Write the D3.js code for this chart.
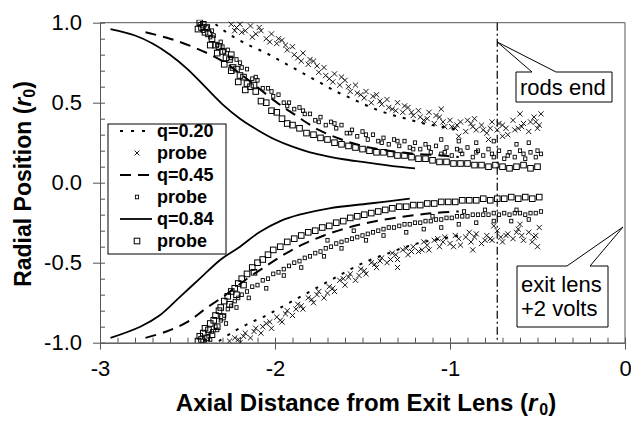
<!DOCTYPE html>
<html>
<head>
<meta charset="utf-8">
<script src="https://cdn.jsdelivr.net/npm/d3@7/dist/d3.min.js"></script>
<style>
  body { margin: 0; background: #fff; }
  svg { display: block; }
  text { font-family: Arial, "Liberation Sans", Helvetica, sans-serif; fill: #000; }
</style>
</head>
<body>
<svg id="chart" width="631" height="428"></svg>
<script>
// ---- axis ticks ----
const xTickValues = [-3, -2, -1, 0];
const yTickValues = [1.0, 0.5, 0.0, -0.5, -1.0];
const rodsEndX = -0.73;

// ---- simulated trajectories (upper / lower envelopes) ----
const sim020Upper = [[-2.34,0.99],[-2.25,0.92],[-2.15,0.86],[-2.05,0.81],[-1.95,0.75],[-1.85,0.69],[-1.75,0.63],[-1.65,0.57],[-1.55,0.52],[-1.45,0.47],[-1.35,0.43],[-1.25,0.40],[-1.15,0.37],[-1.05,0.35],[-0.95,0.33]];
const sim020Lower = [[-2.32,-0.99],[-2.25,-0.94],[-2.15,-0.88],[-2.05,-0.83],[-1.95,-0.77],[-1.85,-0.71],[-1.75,-0.65],[-1.65,-0.59],[-1.55,-0.53],[-1.45,-0.48],[-1.35,-0.44],[-1.25,-0.40],[-1.15,-0.37],[-1.05,-0.35],[-0.95,-0.33]];
const sim045Upper = [[-2.74,0.94],[-2.60,0.90],[-2.45,0.84],[-2.30,0.76],[-2.15,0.64],[-2.00,0.51],[-1.88,0.42],[-1.75,0.33],[-1.62,0.27],[-1.50,0.23],[-1.35,0.20],[-1.20,0.18],[-1.05,0.17],[-0.95,0.16]];
const sim045Lower = [[-2.74,-0.97],[-2.62,-0.93],[-2.50,-0.87],[-2.40,-0.79],[-2.28,-0.70],[-2.16,-0.60],[-2.05,-0.52],[-1.95,-0.45],[-1.85,-0.39],[-1.72,-0.33],[-1.58,-0.28],[-1.42,-0.24],[-1.25,-0.21],[-1.10,-0.19],[-0.95,-0.18]];
const sim084Upper = [[-2.94,0.96],[-2.80,0.92],[-2.70,0.87],[-2.60,0.80],[-2.50,0.71],[-2.40,0.60],[-2.30,0.49],[-2.20,0.40],[-2.10,0.33],[-2.00,0.27],[-1.90,0.225],[-1.80,0.19],[-1.70,0.165],[-1.60,0.145],[-1.50,0.13],[-1.40,0.115],[-1.30,0.10],[-1.20,0.09]];
const sim084Lower = [[-2.94,-0.97],[-2.77,-0.90],[-2.66,-0.83],[-2.54,-0.71],[-2.43,-0.60],[-2.31,-0.48],[-2.20,-0.40],[-2.09,-0.31],[-1.97,-0.24],[-1.86,-0.20],[-1.69,-0.16],[-1.46,-0.13],[-1.23,-0.10]];

// ---- probe measurements ----
const probe020Upper = [[-2.25,0.99],[-2.22,0.97],[-2.20,0.99],[-2.17,0.95],[-2.14,0.98],[-2.11,0.93],[-2.08,0.95],[-2.05,0.90],[-2.02,0.93],[-1.99,0.87],[-1.96,0.89],[-1.93,0.83],[-1.90,0.85],[-1.87,0.78],[-1.84,0.81],[-1.81,0.74],[-1.78,0.76],[-1.75,0.69],[-1.72,0.72],[-1.69,0.65],[-1.66,0.68],[-1.63,0.61],[-1.60,0.64],[-1.57,0.57],[-1.54,0.61],[-1.51,0.55],[-1.48,0.57],[-1.45,0.50],[-1.42,0.55],[-1.39,0.49],[-1.36,0.52],[-1.33,0.46],[-1.30,0.50],[-1.27,0.44],[-1.24,0.47],[-1.21,0.42],[-1.18,0.45],[-1.15,0.39],[-1.12,0.44],[-1.09,0.37],[-1.06,0.41],[-1.03,0.35],[-1.00,0.39],[-0.97,0.34],[-0.94,0.38],[-0.91,0.32],[-0.88,0.37],[-0.85,0.33],[-0.82,0.36],[-0.79,0.31],[-0.76,0.38],[-0.73,0.33],[-0.70,0.36],[-0.67,0.30],[-0.64,0.39],[-0.61,0.34],[-0.58,0.37],[-0.55,0.32],[-0.52,0.41],[-0.49,0.36],[-0.48,0.43],
  [-2.19,0.94],[-2.09,0.97],[-1.98,0.90],[-1.89,0.80],[-1.80,0.77],[-1.71,0.67],[-1.62,0.66],[-1.53,0.56],[-1.44,0.54],[-1.35,0.47],[-1.26,0.48],[-1.17,0.41],[-1.08,0.42],[-0.99,0.35],[-0.90,0.39],[-0.81,0.33],[-0.72,0.37],[-0.63,0.33],[-0.54,0.38],[-0.50,0.34],[-1.05,0.46],[-0.95,0.29],[-0.78,0.27],[-0.60,0.43],[-0.86,0.40],[-0.70,0.29],
  [-2.23,0.95],[-2.13,0.91],[-2.03,0.88],[-1.94,0.86],[-1.85,0.76],[-1.76,0.73],[-1.67,0.63],[-1.58,0.60],[-1.49,0.53],[-1.40,0.51],[-1.31,0.45],[-1.22,0.44],[-1.13,0.40],[-1.04,0.38],[-0.96,0.36],[-0.87,0.35],[-0.77,0.34],[-0.68,0.34],[-0.59,0.35],[-0.51,0.38]];
const probe020Lower = [[-2.26,-0.99],[-2.23,-0.97],[-2.20,-1.00],[-2.17,-0.94],[-2.14,-0.97],[-2.11,-0.91],[-2.08,-0.94],[-2.05,-0.88],[-2.02,-0.91],[-1.99,-0.84],[-1.96,-0.87],[-1.93,-0.80],[-1.90,-0.83],[-1.87,-0.76],[-1.84,-0.79],[-1.81,-0.72],[-1.78,-0.75],[-1.75,-0.68],[-1.72,-0.72],[-1.69,-0.65],[-1.66,-0.68],[-1.63,-0.61],[-1.60,-0.64],[-1.57,-0.57],[-1.54,-0.61],[-1.51,-0.54],[-1.48,-0.57],[-1.45,-0.50],[-1.42,-0.53],[-1.39,-0.47],[-1.36,-0.50],[-1.33,-0.44],[-1.30,-0.48],[-1.27,-0.42],[-1.24,-0.45],[-1.21,-0.40],[-1.18,-0.43],[-1.15,-0.37],[-1.12,-0.42],[-1.09,-0.36],[-1.06,-0.40],[-1.03,-0.34],[-1.00,-0.38],[-0.97,-0.33],[-0.94,-0.39],[-0.91,-0.34],[-0.88,-0.37],[-0.85,-0.32],[-0.82,-0.38],[-0.79,-0.33],[-0.76,-0.36],[-0.73,-0.30],[-0.70,-0.37],[-0.67,-0.32],[-0.64,-0.35],[-0.61,-0.29],[-0.58,-0.36],[-0.55,-0.31],[-0.52,-0.34],[-0.49,-0.28],
  [-2.18,-0.96],[-2.07,-0.90],[-1.97,-0.86],[-1.88,-0.79],[-1.79,-0.73],[-1.70,-0.69],[-1.61,-0.60],[-1.52,-0.58],[-1.43,-0.51],[-1.34,-0.48],[-1.25,-0.41],[-1.16,-0.42],[-1.07,-0.35],[-0.98,-0.40],[-0.89,-0.31],[-0.80,-0.36],[-0.71,-0.34],[-0.62,-0.31],[-0.53,-0.37],[-0.50,-0.40],[-1.30,-0.53],[-0.75,-0.27],[-0.87,-0.42],[-0.60,-0.26],
  [-2.21,-0.98],[-2.12,-0.93],[-2.03,-0.87],[-1.94,-0.82],[-1.85,-0.77],[-1.76,-0.70],[-1.67,-0.66],[-1.58,-0.59],[-1.49,-0.55],[-1.40,-0.49],[-1.31,-0.45],[-1.22,-0.43],[-1.13,-0.39],[-1.04,-0.37],[-0.95,-0.35],[-0.86,-0.34],[-0.77,-0.35],[-0.68,-0.33],[-0.59,-0.33],[-0.51,-0.33]];
const probe045Upper = [[-2.43,0.99],[-2.41,0.95],[-2.39,0.97],[-2.37,0.91],[-2.35,0.92],[-2.33,0.86],[-2.31,0.88],[-2.29,0.82],[-2.27,0.83],[-2.25,0.78],[-2.22,0.77],[-2.19,0.72],[-2.16,0.71],[-2.13,0.65],[-2.10,0.64],[-2.07,0.59],[-2.04,0.59],[-2.01,0.54],[-1.98,0.55],[-1.95,0.50],[-1.92,0.50],[-1.89,0.46],[-1.86,0.47],[-1.83,0.43],[-1.80,0.43],[-1.77,0.39],[-1.74,0.41],[-1.71,0.36],[-1.68,0.38],[-1.65,0.34],[-1.62,0.36],[-1.59,0.31],[-1.56,0.33],[-1.53,0.29],[-1.50,0.32],[-1.47,0.27],[-1.44,0.30],[-1.41,0.26],[-1.38,0.28],[-1.35,0.24],[-1.32,0.27],[-1.29,0.23],[-1.26,0.26],[-1.23,0.22],[-1.20,0.25],[-1.17,0.21],[-1.14,0.24],[-1.11,0.19],[-1.08,0.23],[-1.05,0.18],[-1.02,0.22],[-0.99,0.17],[-0.96,0.21],[-0.93,0.18],[-0.90,0.22],[-0.87,0.16],[-0.84,0.20],[-0.81,0.17],[-0.78,0.21],[-0.75,0.16],[-0.72,0.20],[-0.69,0.15],[-0.66,0.19],[-0.63,0.16],[-0.60,0.20],[-0.57,0.15],[-0.54,0.19],[-0.51,0.16],[-0.48,0.18],
  [-2.36,0.95],[-2.30,0.85],[-2.20,0.75],[-2.11,0.66],[-2.02,0.57],[-1.93,0.48],[-1.84,0.45],[-1.75,0.38],[-1.66,0.37],[-1.57,0.31],[-1.48,0.30],[-1.39,0.25],[-1.30,0.26],[-1.21,0.21],[-1.12,0.22],[-1.03,0.19],[-0.94,0.20],[-0.85,0.19],[-0.76,0.18],[-0.67,0.17],[-0.58,0.18],[-0.50,0.20],
  [-1.05,0.27],[-0.95,0.26],[-0.85,0.25],[-0.75,0.26],[-0.62,0.24],[-0.55,0.25]];
const probe045Lower = [[-2.40,-0.99],[-2.38,-0.96],[-2.37,-0.98],[-2.36,-0.93],[-2.34,-0.90],[-2.33,-0.92],[-2.31,-0.86],[-2.29,-0.83],[-2.27,-0.79],[-2.25,-0.77],[-2.23,-0.74],[-2.21,-0.72],[-2.19,-0.70],[-2.16,-0.68],[-2.13,-0.65],[-2.10,-0.64],[-2.07,-0.61],[-2.04,-0.60],[-2.01,-0.57],[-1.98,-0.56],[-1.95,-0.54],[-1.92,-0.52],[-1.89,-0.50],[-1.86,-0.49],[-1.83,-0.47],[-1.80,-0.46],[-1.77,-0.44],[-1.74,-0.43],[-1.71,-0.41],[-1.68,-0.40],[-1.65,-0.38],[-1.62,-0.37],[-1.59,-0.36],[-1.56,-0.35],[-1.53,-0.34],[-1.50,-0.33],[-1.47,-0.32],[-1.44,-0.31],[-1.41,-0.30],[-1.38,-0.29],[-1.35,-0.28],[-1.32,-0.28],[-1.29,-0.27],[-1.26,-0.26],[-1.23,-0.26],[-1.20,-0.25],[-1.17,-0.25],[-1.14,-0.24],[-1.11,-0.24],[-1.08,-0.23],[-1.05,-0.23],[-1.02,-0.22],[-0.99,-0.22],[-0.96,-0.21],[-0.93,-0.21],[-0.90,-0.21],[-0.87,-0.20],[-0.84,-0.20],[-0.81,-0.20],[-0.78,-0.20],[-0.75,-0.19],[-0.72,-0.20],[-0.69,-0.19],[-0.66,-0.20],[-0.63,-0.19],[-0.60,-0.19],[-0.57,-0.20],[-0.54,-0.19],[-0.51,-0.19],[-0.48,-0.18],
  [-2.28,-0.88],[-2.22,-0.78],[-2.15,-0.72],[-2.05,-0.66],[-1.95,-0.58],[-1.85,-0.53],[-1.72,-0.46],[-1.62,-0.41],[-1.48,-0.36],[-1.38,-0.33],[-1.25,-0.31],[-1.15,-0.29],[-1.05,-0.28],[-0.95,-0.26],[-0.85,-0.25],[-0.75,-0.24],[-0.65,-0.24],[-0.55,-0.23],[-1.70,-0.36],[-1.55,-0.30],[-1.10,-0.21],[-0.92,-0.18],[-0.80,-0.17],[-0.62,-0.17]];
const probe084Upper = [[-2.43,1.00],[-2.42,0.97],[-2.41,0.99],[-2.40,0.94],[-2.38,0.93],[-2.36,0.90],[-2.34,0.86],[-2.32,0.85],[-2.30,0.82],[-2.28,0.78],[-2.26,0.77],[-2.24,0.72],[-2.22,0.71],[-2.20,0.67],[-2.18,0.66],[-2.16,0.62],[-2.14,0.60],[-2.11,0.57],[-2.08,0.51],[-2.05,0.50],[-2.02,0.45],[-1.99,0.44],[-1.96,0.40],[-1.93,0.37],[-1.90,0.36],[-1.86,0.34],[-1.82,0.31],[-1.78,0.30],[-1.74,0.28],[-1.70,0.27],[-1.66,0.25],[-1.62,0.24],[-1.58,0.23],[-1.54,0.22],[-1.50,0.21],[-1.46,0.20],[-1.42,0.19],[-1.38,0.19],[-1.34,0.18],[-1.30,0.17],[-1.26,0.17],[-1.22,0.16],[-1.18,0.15],[-1.14,0.15],[-1.10,0.14],[-1.06,0.13],[-1.02,0.13],[-0.98,0.12],[-0.94,0.12],[-0.90,0.12],[-0.86,0.11],[-0.82,0.11],[-0.78,0.10],[-0.74,0.11],[-0.70,0.10],[-0.66,0.09],[-0.62,0.10],[-0.58,0.11],[-0.54,0.09],[-0.50,0.10],
  [-2.44,0.96],[-2.39,0.97],[-2.37,0.86],[-2.33,0.81],[-2.29,0.74],[-2.25,0.70],[-2.21,0.63],[-2.17,0.58],[-2.12,0.61],[-2.25,0.80]];
const probe084Lower = [[-2.44,-0.99],[-2.43,-0.96],[-2.42,-0.98],[-2.41,-0.94],[-2.40,-0.91],[-2.38,-0.92],[-2.37,-0.88],[-2.35,-0.86],[-2.34,-0.83],[-2.32,-0.80],[-2.31,-0.78],[-2.29,-0.74],[-2.27,-0.71],[-2.25,-0.68],[-2.23,-0.66],[-2.21,-0.63],[-2.19,-0.60],[-2.16,-0.57],[-2.13,-0.53],[-2.10,-0.50],[-2.07,-0.48],[-2.04,-0.45],[-2.01,-0.42],[-1.97,-0.40],[-1.93,-0.37],[-1.89,-0.35],[-1.85,-0.33],[-1.81,-0.31],[-1.77,-0.30],[-1.73,-0.28],[-1.69,-0.27],[-1.65,-0.25],[-1.61,-0.24],[-1.57,-0.22],[-1.53,-0.21],[-1.49,-0.20],[-1.45,-0.19],[-1.41,-0.18],[-1.37,-0.17],[-1.33,-0.16],[-1.29,-0.15],[-1.25,-0.15],[-1.21,-0.14],[-1.17,-0.14],[-1.13,-0.13],[-1.09,-0.13],[-1.05,-0.12],[-1.01,-0.12],[-0.97,-0.12],[-0.93,-0.11],[-0.89,-0.11],[-0.85,-0.11],[-0.81,-0.10],[-0.77,-0.11],[-0.73,-0.10],[-0.69,-0.10],[-0.65,-0.09],[-0.61,-0.10],[-0.57,-0.09],[-0.53,-0.10],[-0.49,-0.09],
  [-2.39,-0.97],[-2.36,-0.95],[-2.33,-0.90],[-2.30,-0.84],[-2.26,-0.76],[-2.22,-0.70],[-2.18,-0.64],[-2.12,-0.56]];

// ---- legend entries ----
const legendLabels = ["q=0.20", "probe", "q=0.45", "probe", "q=0.84", "probe"];

// ---- layout ----
const svg = d3.select("#chart");
const plot = { left: 100, right: 625, top: 22.7, bottom: 342.7 };
const x = d3.scaleLinear().domain([-3, 0]).range([plot.left, plot.right]);
const y = d3.scaleLinear().domain([-1, 1]).range([plot.bottom, plot.top]);
const axisColor = "#555";

svg.append("defs").append("clipPath").attr("id", "plotClip")
  .append("rect")
  .attr("x", plot.left).attr("y", plot.top - 3)
  .attr("width", plot.right - plot.left).attr("height", plot.bottom - plot.top + 3);

// frame: top and right edges
svg.append("path")
  .attr("d", `M${plot.left},${plot.top}H${plot.right}V${plot.bottom}`)
  .attr("fill", "none").attr("stroke", axisColor).attr("stroke-width", 1);

// y axis: minor inward ticks every 0.1, major ticks outward with labels
const yMinor = d3.range(-10, 11).map(i => i / 10);
svg.append("g").attr("transform", `translate(${plot.left},0)`)
  .call(d3.axisLeft(y).tickValues(yMinor).tickSizeInner(-5).tickSizeOuter(0).tickFormat(""))
  .call(g => g.selectAll("line,path").attr("stroke", axisColor));
svg.append("g").attr("transform", `translate(${plot.left},0)`)
  .call(d3.axisLeft(y).tickValues(yTickValues).tickSizeInner(7).tickSizeOuter(0).tickPadding(11)
    .tickFormat(d => d.toFixed(1)))
  .call(g => g.selectAll("line,path").attr("stroke", axisColor))
  .call(g => g.selectAll("text").attr("font-size", 22).attr("font-family", "Arial, 'Liberation Sans', sans-serif").attr("fill", "#000"));

// x axis
const xMinor = d3.range(-30, 1).map(i => i / 10);
svg.append("g").attr("transform", `translate(0,${plot.bottom})`)
  .call(d3.axisBottom(x).tickValues(xMinor).tickSizeInner(-5).tickSizeOuter(0).tickFormat(""))
  .call(g => g.selectAll("line,path").attr("stroke", axisColor));
svg.append("g").attr("transform", `translate(0,${plot.bottom})`)
  .call(d3.axisBottom(x).tickValues(xTickValues).tickSizeInner(7).tickSizeOuter(0).tickPadding(11)
    .tickFormat(d => String(d)))
  .call(g => g.selectAll("line,path").attr("stroke", axisColor))
  .call(g => g.selectAll("text").attr("font-size", 22).attr("font-family", "Arial, 'Liberation Sans', sans-serif").attr("fill", "#000"));

// axis titles
const xTitle = svg.append("text")
  .attr("x", 366).attr("y", 411).attr("text-anchor", "middle")
  .attr("font-size", 24).attr("font-weight", "bold");
xTitle.append("tspan").text("Axial Distance from Exit Lens (");
xTitle.append("tspan").attr("font-style", "italic").text("r");
xTitle.append("tspan").attr("font-size", 16).attr("dy", 4).attr("dx", 2).text("0");
xTitle.append("tspan").attr("dy", -4).text(")");

const yTitle = svg.append("text")
  .attr("transform", "translate(31,184) rotate(-90)").attr("text-anchor", "middle")
  .attr("font-size", 23).attr("font-weight", "bold");
yTitle.append("tspan").text("Radial Position (");
yTitle.append("tspan").attr("font-style", "italic").text("r");
yTitle.append("tspan").attr("font-size", 16).attr("dy", 4).text("0");
yTitle.append("tspan").attr("dy", -4).text(")");

// rods-end marker
svg.append("line")
  .attr("x1", x(rodsEndX)).attr("x2", x(rodsEndX))
  .attr("y1", plot.top).attr("y2", plot.bottom)
  .attr("stroke", "#000").attr("stroke-width", 1.2)
  .attr("stroke-dasharray", "8,3,2,3");

const body = svg.append("g").attr("clip-path", "url(#plotClip)");

// marker shapes
const markers = {
  cross: (g, s) => g.append("path").attr("d", `M${-s},${-s}L${s},${s}M${-s},${s}L${s},${-s}`)
    .attr("stroke", "#000").attr("stroke-width", 0.9).attr("fill", "none"),
  smallSquare: (g, s) => g.append("rect").attr("x", -1.6).attr("y", -1.8).attr("width", 3.2).attr("height", 3.6)
    .attr("stroke", "#000").attr("stroke-width", 0.9).attr("fill", "none"),
  bigSquare: (g, s) => g.append("rect").attr("x", -2.8).attr("y", -2.8).attr("width", 5.6).attr("height", 5.6)
    .attr("stroke", "#000").attr("stroke-width", 1).attr("fill", "none")
};

function drawProbe(data, kind, size) {
  body.append("g").selectAll("g").data(data).join("g")
    .attr("transform", d => `translate(${x(d[0])},${y(d[1])})`)
    .each(function () { markers[kind](d3.select(this), size); });
}
drawProbe(probe020Upper, "cross", 2.6);
drawProbe(probe020Lower, "cross", 2.6);
drawProbe(probe045Upper, "smallSquare");
drawProbe(probe045Lower, "smallSquare");
drawProbe(probe084Upper, "bigSquare");
drawProbe(probe084Lower, "bigSquare");

// simulated curves
const line = d3.line().x(d => x(d[0])).y(d => y(d[1])).curve(d3.curveCatmullRom.alpha(0.5));
const styles = {
  q020: { dash: "3,7", width: 2 },
  q045: { dash: "11,7", width: 2 },
  q084: { dash: null, width: 1.8 }
};
[[sim020Upper, "q020"], [sim020Lower, "q020"], [sim045Upper, "q045"], [sim045Lower, "q045"],
 [sim084Upper, "q084"], [sim084Lower, "q084"]].forEach(([data, key]) => {
  body.append("path").datum(data).attr("d", line)
    .attr("fill", "none").attr("stroke", "#000")
    .attr("stroke-width", styles[key].width)
    .attr("stroke-dasharray", styles[key].dash);
});

// legend
const legend = svg.append("g");
legend.append("rect").attr("x", 108).attr("y", 124).attr("width", 118).attr("height", 130)
  .attr("fill", "#fff").attr("stroke", "#000").attr("stroke-width", 1);
const legendKinds = [
  { type: "line", key: "q020" }, { type: "marker", kind: "cross", size: 2.4 },
  { type: "line", key: "q045" }, { type: "marker", kind: "smallSquare" },
  { type: "line", key: "q084" }, { type: "marker", kind: "bigSquare" }
];
legendLabels.forEach((label, i) => {
  const cy = 131 + i * 22;
  const k = legendKinds[i];
  if (k.type === "line") {
    legend.append("line").attr("x1", 120).attr("x2", 152).attr("y1", cy).attr("y2", cy)
      .attr("stroke", "#000").attr("stroke-width", styles[k.key].width)
      .attr("stroke-dasharray", k.key === "q020" ? "3,8" : styles[k.key].dash);
  } else {
    const g = legend.append("g").attr("transform", `translate(137,${cy})`);
    markers[k.kind](g, k.size);
  }
  legend.append("text").attr("x", 157).attr("y", cy).attr("dy", "0.36em")
    .attr("font-size", 18).attr("font-weight", "bold").text(label);
});

// callouts
const callouts = svg.append("g");
callouts.append("path")
  .attr("d", `M516,72H532L${x(rodsEndX)},42L556,72H612V102H516Z`)
  .attr("fill", "#fff").attr("stroke", "#000").attr("stroke-width", 1);
callouts.append("text").attr("x", 520).attr("y", 95).attr("font-size", 22).text("rods end");

callouts.append("path")
  .attr("d", `M517,266H567L${x(0) - 2},227L590,266H608V327H517Z`)
  .attr("fill", "#fff").attr("stroke", "#000").attr("stroke-width", 1);
callouts.append("text").attr("x", 521).attr("y", 292).attr("font-size", 22).text("exit lens");
callouts.append("text").attr("x", 521).attr("y", 316).attr("font-size", 22).text("+2 volts");
</script>
</body>
</html>
